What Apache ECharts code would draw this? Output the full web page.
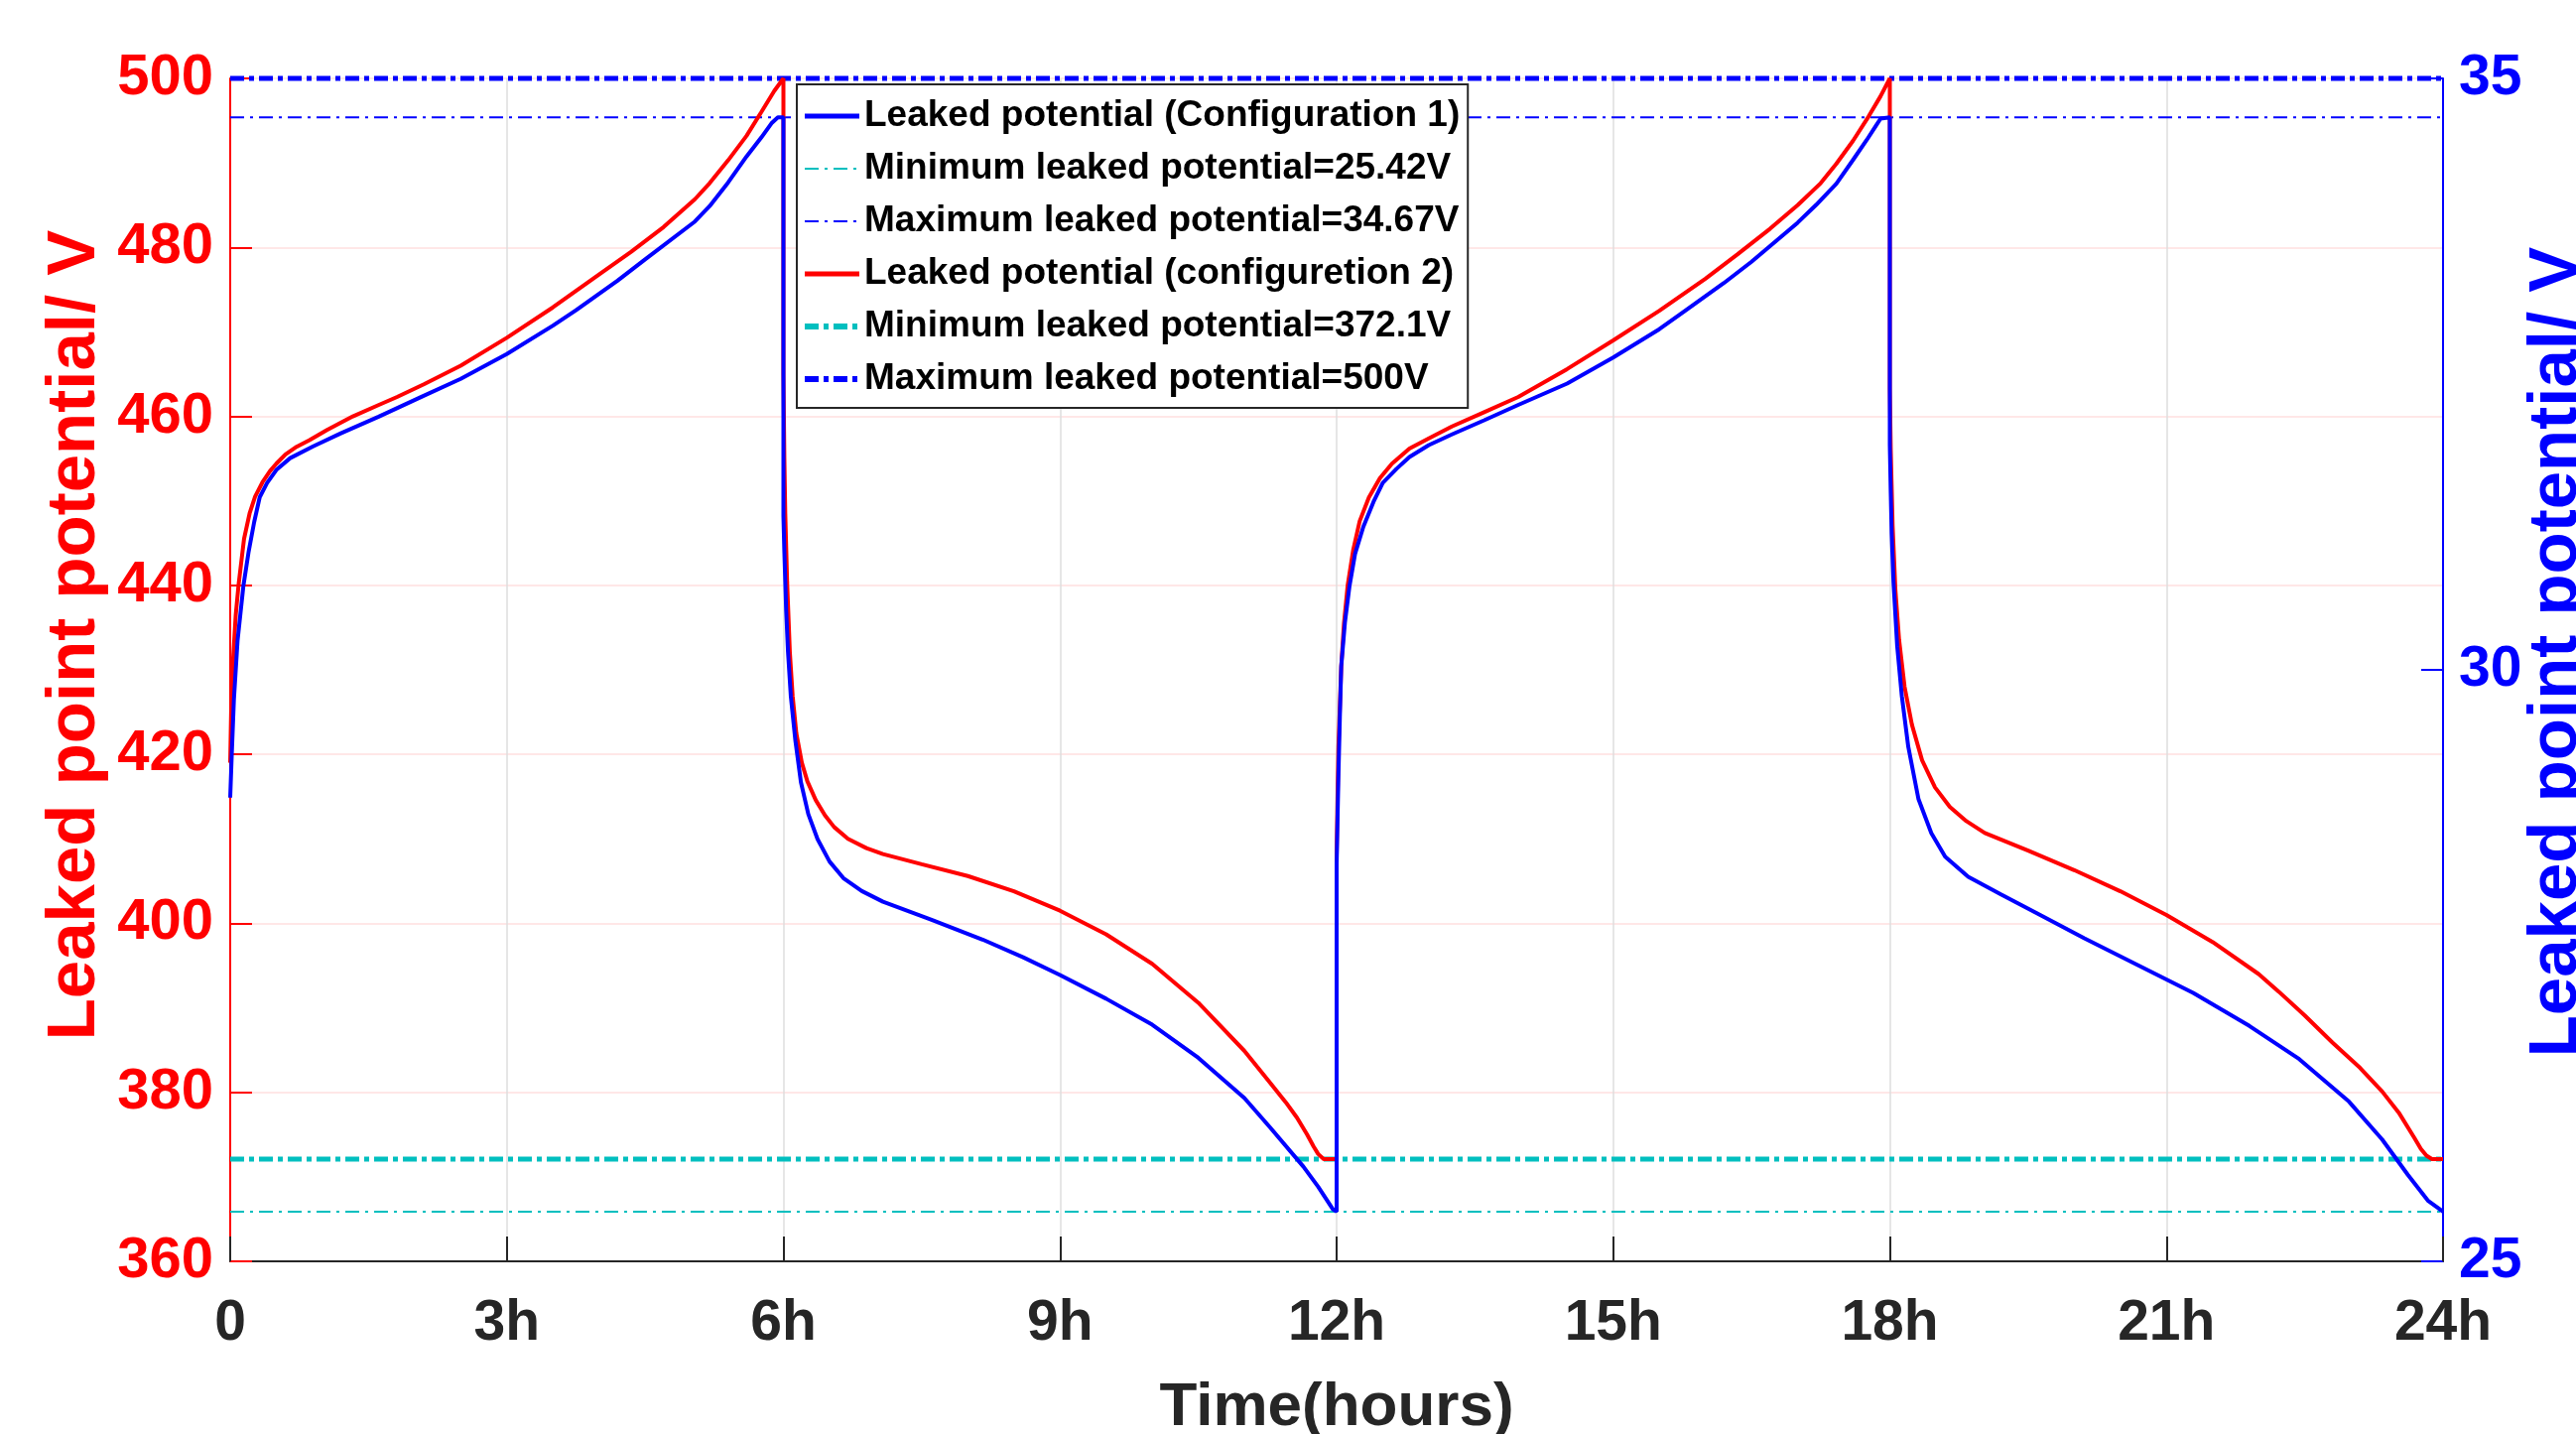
<!DOCTYPE html>
<html>
<head>
<meta charset="utf-8">
<script src="https://cdn.jsdelivr.net/npm/echarts@6/dist/echarts.min.js"></script>
<style>
html,body{margin:0;padding:0;background:#fff;}
#chart{width:2596px;height:1445px;}
</style>
</head>
<body>
<div id="chart"></div>
<script>
// ---- Data ----
const xTickLabels = ['0', '3h', '6h', '9h', '12h', '15h', '18h', '21h', '24h'];

// Configuration 1 (blue, right axis, V) : [time h, potential V]
const config1Points = [
  [0, 28.92], [0.017, 29.29], [0.04, 29.75], [0.08, 30.25], [0.143, 30.71], [0.2, 31.0], [0.26, 31.25],
  [0.32, 31.46], [0.4, 31.58], [0.5, 31.69], [0.65, 31.79], [0.9, 31.89], [1.2, 32.0], [1.61, 32.14],
  [2.08, 32.31], [2.5, 32.46], [3.0, 32.67], [3.5, 32.91], [3.75, 33.04], [4.2, 33.29], [4.5, 33.47],
  [5.04, 33.79], [5.2, 33.92], [5.4, 34.12], [5.6, 34.34], [5.76, 34.5], [5.87, 34.62], [5.94, 34.67], [6.0, 34.67],
  [6.0, 31.3], [6.01, 31.0], [6.02, 30.75], [6.03, 30.5], [6.05, 30.15], [6.08, 29.78], [6.13, 29.4], [6.19, 29.05],
  [6.27, 28.78], [6.37, 28.57], [6.5, 28.38], [6.65, 28.24], [6.85, 28.13], [7.08, 28.04], [7.6, 27.89],
  [8.16, 27.72], [8.6, 27.57], [9.0, 27.42], [9.5, 27.22], [10.0, 27.0], [10.5, 26.72], [11.0, 26.38],
  [11.28, 26.13], [11.64, 25.8], [11.8, 25.63], [11.96, 25.44], [12.0, 25.42],
  [12.0, 28.35], [12.01, 28.75], [12.02, 29.12], [12.035, 29.6], [12.05, 30.03], [12.09, 30.4], [12.14, 30.71],
  [12.2, 30.98], [12.29, 31.21], [12.4, 31.42], [12.5, 31.58], [12.65, 31.7], [12.79, 31.8], [13.0, 31.9],
  [13.25, 31.99], [13.6, 32.11], [13.97, 32.24], [14.5, 32.42], [15.0, 32.64], [15.5, 32.88], [15.75, 33.02],
  [16.2, 33.27], [16.5, 33.45], [17.0, 33.78], [17.2, 33.93], [17.42, 34.11], [17.6, 34.31], [17.75, 34.48],
  [17.85, 34.6], [17.9, 34.66], [18.0, 34.67],
  [18.0, 31.9], [18.01, 31.5], [18.02, 31.15], [18.04, 30.74], [18.08, 30.2], [18.13, 29.78], [18.2, 29.35],
  [18.31, 28.91], [18.45, 28.62], [18.6, 28.42], [18.85, 28.25], [19.21, 28.1], [19.6, 27.94], [20.11, 27.73],
  [20.7, 27.5], [21.29, 27.27], [21.9, 26.99], [22.44, 26.71], [22.98, 26.35], [23.34, 26.03], [23.62, 25.73],
  [23.84, 25.51], [24.0, 25.42]
];

// Configuration 2 (red, left axis, V) : [time h, potential V]
const config2Points = [
  [0, 419], [0.01, 425], [0.03, 431], [0.06, 436.5], [0.09, 440], [0.15, 445.5], [0.21, 448.5], [0.27, 450.5],
  [0.35, 452.2], [0.43, 453.5], [0.5, 454.4], [0.6, 455.5], [0.72, 456.4], [0.86, 457.2], [1.05, 458.4],
  [1.33, 460], [1.6, 461.3], [1.81, 462.3], [2.1, 463.8], [2.5, 466.0], [3.0, 469.3], [3.5, 472.9], [4.0, 476.8],
  [4.35, 479.5], [4.7, 482.4], [5.04, 485.7], [5.2, 487.6], [5.4, 490.3], [5.6, 493.2], [5.76, 496.0], [5.9, 498.5], [6.0, 500],
  [6.0, 465], [6.01, 455], [6.02, 448.5], [6.04, 440.4], [6.07, 432], [6.1, 426.9], [6.14, 422.5], [6.2, 419],
  [6.26, 416.8], [6.35, 414.6], [6.45, 412.8], [6.55, 411.4], [6.7, 410.0], [6.9, 408.9], [7.08, 408.2],
  [7.5, 407.0], [8.0, 405.6], [8.5, 403.8], [9.0, 401.5], [9.5, 398.7], [10.0, 395.2],
  [10.5, 390.6], [11.0, 384.9], [11.28, 381.1], [11.45, 378.8], [11.57, 377.0], [11.68, 375.0], [11.75, 373.6],
  [11.8, 372.7], [11.86, 372.1], [12.0, 372.1],
  [12.0, 408], [12.01, 415], [12.02, 420.9], [12.05, 430.4], [12.08, 435.5], [12.12, 440], [12.18, 444.2],
  [12.25, 447.6], [12.35, 450.4], [12.47, 452.7], [12.6, 454.4], [12.79, 456.2], [13.0, 457.4], [13.25, 458.8],
  [13.6, 460.5], [13.97, 462.3], [14.5, 465.6], [15.0, 469.0], [15.5, 472.5], [16.0, 476.3], [16.35, 479.2],
  [16.7, 482.2], [17.0, 485.0], [17.25, 487.6], [17.42, 489.9], [17.6, 492.6], [17.77, 495.5], [17.9, 497.9], [18.0, 500],
  [18.0, 463.3], [18.01, 456], [18.03, 447.1], [18.06, 439.5], [18.1, 433.6], [18.16, 428], [18.24, 423.5],
  [18.35, 419.3], [18.49, 416.1], [18.65, 413.8], [18.83, 412.1], [19.03, 410.7], [19.5, 408.6], [20.0, 406.3],
  [20.5, 403.8], [21.0, 401.0], [21.5, 397.8], [22.0, 394.0], [22.22, 391.9], [22.5, 389.1],
  [22.8, 385.9], [23.1, 382.9], [23.34, 380.1], [23.52, 377.6], [23.69, 374.6], [23.76, 373.3], [23.82, 372.5],
  [23.88, 372.1], [24.0, 372.1]
];

const config1Min = 25.42;
const config1Max = 34.67;
const config2Min = 372.1;
const config2Max = 500;
const timeRange = [0, 24];

const names = [
  'Leaked potential (Configuration 1)',
  'Minimum leaked potential=25.42V',
  'Maximum leaked potential=34.67V',
  'Leaked potential (configuretion 2)',
  'Minimum leaked potential=372.1V',
  'Maximum leaked potential=500V'
];

// ---- Styling ----
const FONT = "'Liberation Sans', Arial, Helvetica, sans-serif";
const RED = '#ff0000', BLUE = '#0000ff', CYAN = '#00bfbf', DARK = '#262626';
const thinDash = [14, 6, 3, 6];
const thickDash = [14, 5, 5, 5];
const legendWidths = [5, 2, 2, 5, 6, 6];

function hLine(name, value, axis, color, width, dash) {
  return {
    name: name, type: 'line', yAxisIndex: axis, symbol: 'none', clip: false,
    data: [[timeRange[0], value], [timeRange[1], value]],
    lineStyle: { color: color, width: width, type: dash },
    itemStyle: { color: color }, silent: true
  };
}

const chart = echarts.init(document.getElementById('chart'), null, { renderer: 'canvas' });
const option = {
  backgroundColor: '#ffffff',
  animation: false,
  grid: { left: 232, right: 134, top: 79, bottom: 174, outerBoundsMode: 'none', containLabel: false },
  legend: {
    orient: 'vertical', left: 803, top: 85,
    data: names.map(function (n, i) { return { name: n, lineStyle: { width: legendWidths[i] } }; }),
    selectedMode: false,
    itemWidth: 55, itemHeight: 14, itemGap: 9,
    padding: [10, 8, 7, 5],
    backgroundColor: '#ffffff', borderColor: DARK, borderWidth: 2,
    itemStyle: { opacity: 0, borderWidth: 0 },
    textStyle: { fontFamily: FONT, fontWeight: 'bold', fontSize: 37, color: '#000', lineHeight: 44 }
  },
  xAxis: {
    type: 'value', min: timeRange[0], max: timeRange[1], interval: 3,
    axisLine: { show: true, onZero: false, lineStyle: { color: DARK, width: 2 } },
    axisTick: { show: true, inside: true, length: 25, lineStyle: { color: DARK, width: 2 } },
    axisLabel: {
      formatter: function (v) { return xTickLabels[Math.round(v / 3)]; },
      fontFamily: FONT, fontWeight: 'bold', fontSize: 57, color: DARK, margin: 35
    },
    splitLine: { show: true, lineStyle: { color: '#dedede', width: 1.5 } },
    name: 'Time(hours)', nameLocation: 'middle', nameGap: 117, nameMoveOverlap: false,
    nameTextStyle: { fontFamily: FONT, fontWeight: 'bold', fontSize: 62, color: DARK }
  },
  yAxis: [
    {
      type: 'value', position: 'left', min: 360, max: 500, interval: 20,
      axisLine: { show: true, lineStyle: { color: RED, width: 2 } },
      axisTick: { show: true, inside: true, length: 22, lineStyle: { color: RED, width: 2 } },
      axisLabel: { fontFamily: FONT, fontWeight: 'bold', fontSize: 58, color: RED, margin: 17 },
      splitLine: { show: true, lineStyle: { color: 'rgba(255,0,0,0.13)', width: 1.5 } },
      name: 'Leaked point potential/ V', nameLocation: 'middle', nameGap: 122, nameRotate: 90, nameMoveOverlap: false,
      nameTextStyle: { fontFamily: FONT, fontWeight: 'bold', fontSize: 69, color: RED, padding: [0, 0, 0, 70] }
    },
    {
      type: 'value', position: 'right', min: 25, max: 35, interval: 5,
      axisLine: { show: true, lineStyle: { color: BLUE, width: 2 } },
      axisTick: { show: true, inside: true, length: 22, lineStyle: { color: BLUE, width: 2 } },
      axisLabel: { fontFamily: FONT, fontWeight: 'bold', fontSize: 57, color: BLUE, margin: 16 },
      splitLine: { show: false },
      name: 'Leaked point potential/ V', nameLocation: 'middle', nameGap: 80, nameRotate: 90, nameMoveOverlap: false,
      nameTextStyle: { fontFamily: FONT, fontWeight: 'bold', fontSize: 69, color: BLUE, padding: [0, 0, 0, 36] }
    }
  ],
  series: [
    hLine(names[1], config1Min, 1, CYAN, 2, thinDash),
    hLine(names[2], config1Max, 1, BLUE, 2, thinDash),
    hLine(names[4], config2Min, 0, CYAN, 5, thickDash),
    hLine(names[5], config2Max, 0, BLUE, 5, thickDash),
    {
      name: names[3], type: 'line', yAxisIndex: 0, symbol: 'none', clip: false,
      data: config2Points,
      lineStyle: { color: RED, width: 4 }, itemStyle: { color: RED }
    },
    {
      name: names[0], type: 'line', yAxisIndex: 1, symbol: 'none', clip: false,
      data: config1Points,
      lineStyle: { color: BLUE, width: 4 }, itemStyle: { color: BLUE }
    }
  ]
};
chart.setOption(option);
</script>
</body>
</html>
